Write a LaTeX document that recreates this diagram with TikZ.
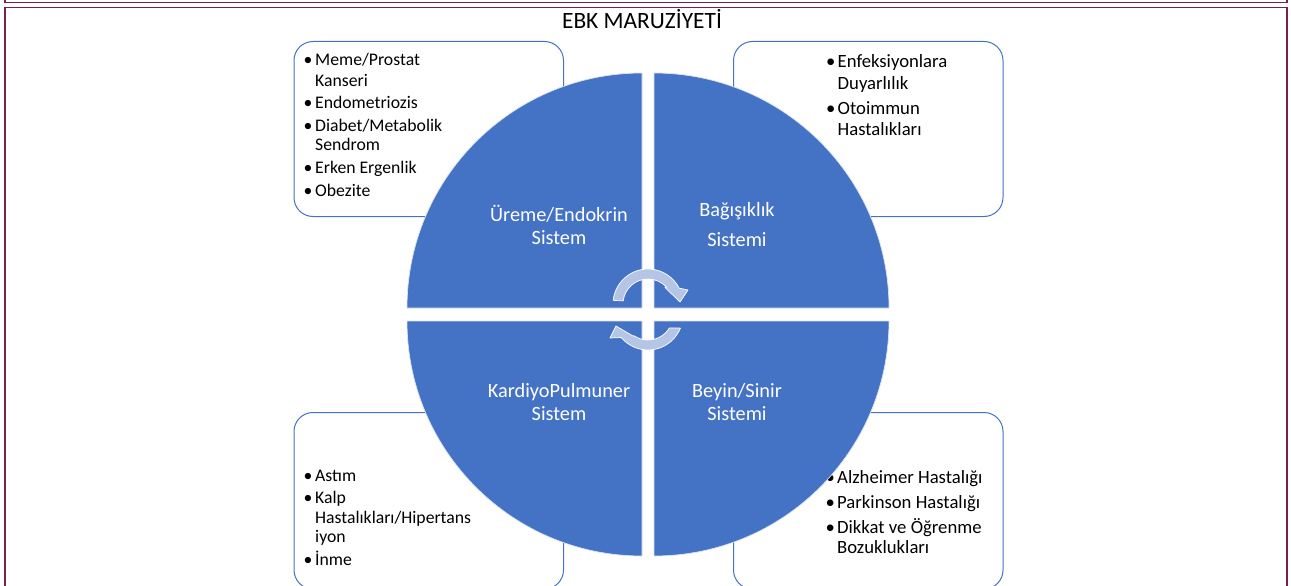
\documentclass[tikz,border=0pt]{standalone}
\usepackage{fontspec}
\setmainfont{Carlito}
\usetikzlibrary{calc}
\definecolor{qblue}{RGB}{68,114,196}
\definecolor{arrowfill}{RGB}{180,197,230}
\definecolor{framered}{RGB}{125,30,75}
% bullet for the list boxes
\newcommand\itembul{\makebox[11.5pt][l]{\textbullet}}
\begin{document}
\begin{tikzpicture}[x=1pt,y=-1pt,
  box/.style={draw=qblue, line width=1pt, rounded corners=19pt, fill=white},
  quad/.style={fill=qblue, draw=white!80!qblue, line width=0.7pt},
  lbl/.style={text=white, font=\fontsize{20.3}{23}\selectfont, anchor=base, inner sep=0pt},
  itm/.style={anchor=base west, inner sep=0pt, font=\fontsize{17.7}{20}\selectfont},
  itmb/.style={anchor=base west, inner sep=0pt, font=\fontsize{18.7}{21}\selectfont},
  cyc/.style={fill=arrowfill, draw=white, line width=0.7pt, line join=round},
  framestyle/.style={draw=framered, line width=1.6pt}]
\useasboundingbox (0,0) rectangle (1291,586);

% page frames
\draw[framestyle] (5,-3) -- (5,2.5) -- (1287,2.5) -- (1287,-3);
\draw[framestyle] (5,600) -- (5,7.5) -- (1287,7.5) -- (1287,600);

% title
\node[font=\fontsize{23.4}{28}\selectfont, anchor=base, inner sep=0pt] (title) at (642,29) {EBK MARUZİYETİ};

% list boxes
\draw[box] (294,41.5) rectangle (563.5,216.5);
\draw[box] (733.5,41.5) rectangle (1003,216.5);
\draw[box] (294,412.5) rectangle (563.5,589);
\draw[box] (733.5,412.5) rectangle (1003,589);

% reproductive / endocrine list
\node[itm] (tl1) at (303.5,66) {\itembul Meme/Prostat};
\node[itm] (tl1b) at (315,86) {Kanseri};
\node[itm] (tl2) at (303.5,108) {\itembul Endometriozis};
\node[itm] (tl3) at (303.5,131) {\itembul Diabet/Metabolik};
\node[itm] (tl3b) at (315,150) {Sendrom};
\node[itm] (tl4) at (303.5,173) {\itembul Erken Ergenlik};
\node[itm] (tl5) at (303.5,196) {\itembul Obezite};

% immune list
\node[itmb] (tr1) at (826,68) {\itembul Enfeksiyonlara};
\node[itmb] (tr1b) at (837.5,89) {Duyarlılık};
\node[itmb] (tr2) at (826,114) {\itembul Otoimmun};
\node[itmb] (tr2b) at (837.5,135) {Hastalıkları};

% cardio-pulmonary list
\node[itm] (bl1) at (303.5,481) {\itembul Astım};
\node[itm] (bl2) at (303.5,503) {\itembul Kalp};
\node[itm] (bl2b) at (315,523) {Hastalıkları/Hipertans};
\node[itm] (bl2c) at (315,542) {iyon};
\node[itm] (bl3) at (303.5,565) {\itembul İnme};

% nervous system list
\node[itmb] (br1) at (825.5,483) {\itembul Alzheimer Hastalığı};
\node[itmb] (br2) at (825.5,508) {\itembul Parkinson Hastalığı};
\node[itmb] (br3) at (825.5,533) {\itembul Dikkat ve Öğrenme};
\node[itmb] (br3b) at (837,553) {Bozuklukları};

% four quarter-circle segments
\path[quad] (642,308) -- (407,308) arc[start angle=180,end angle=270,radius=235] -- cycle;
\path[quad] (654,308) -- (654,73) arc[start angle=270,end angle=360,radius=235] -- cycle;
\path[quad] (654,321) -- (889,321) arc[start angle=0,end angle=90,radius=235] -- cycle;
\path[quad] (642,321) -- (642,556) arc[start angle=90,end angle=180,radius=235] -- cycle;

% segment labels
\node[lbl] (lUre) at (559,221) {Üreme/Endokrin};
\node[lbl] (lUreb) at (559,244) {Sistem};
\node[lbl] (lBag) at (737,216) {Bağışıklık};
\node[lbl] (lBagb) at (737,246) {Sistemi};
\node[lbl] (lKar) at (559,397) {KardiyoPulmuner};
\node[lbl] (lKarb) at (559,420) {Sistem};
\node[lbl] (lBey) at (737,397) {Beyin/Sinir};
\node[lbl] (lBeyb) at (737,420) {Sistemi};

% central cycle arrows
\path[cyc] ($(648,304)+(186:35)$) arc[start angle=186,end angle=333,radius=35]
  -- (688,290) -- (680,302) -- (665,287.5)
  -- ($(648,304)+(318:25)$) arc[start angle=318,end angle=187,radius=25] -- cycle;
\path[cyc] ($(648,315)+(22:35)$) arc[start angle=22,end angle=140,radius=35]
  -- (610,338) -- (616,326) -- (633,336)
  -- ($(648,315)+(124:25)$) arc[start angle=124,end angle=31,radius=25] -- cycle;
\end{tikzpicture}
\end{document}
